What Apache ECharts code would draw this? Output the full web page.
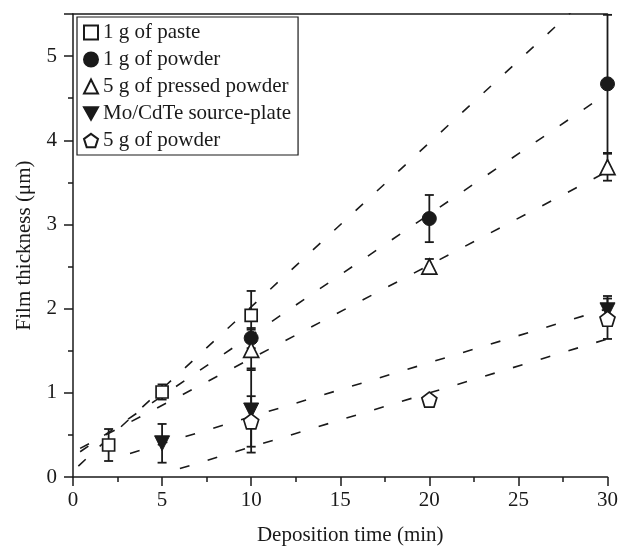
<!DOCTYPE html>
<html><head><meta charset="utf-8">
<script src="https://cdn.jsdelivr.net/npm/echarts@6/dist/echarts.min.js"></script>
<style>html,body{margin:0;padding:0;background:#fff}#c{width:621px;height:551px}</style>
</head><body><div id="c"></div>
<script>
// ---- data ----
const seriesNames = ['1 g of paste', '1 g of powder', '5 g of pressed powder', 'Mo/CdTe source-plate', '5 g of powder'];

const pasteX = [2, 5, 10];
const pasteY = [0.38, 1.01, 1.92];
const pasteErr = [0.19, 0.09, 0.29];

const powderX = [10, 20, 30];
const powderY = [1.65, 3.07, 4.67];
const powderErr = [0.12, 0.28, 0.82];

const pressedX = [10, 20, 30];
const pressedY = [1.51, 2.50, 3.68];
const pressedErr = [0.24, 0.09, 0.16];

const moX = [5, 10, 30];
const moY = [0.40, 0.79, 1.98];
const moErr = [0.23, 0.50, 0.17];

const powder5X = [10, 20, 30];
const powder5Y = [0.66, 0.92, 1.88];
const powder5Err = [0.30, 0, 0.24];

// dashed fit lines (end points)
const fitPasteX = [0.3, 30],   fitPasteY = [0.13, 5.92];
const fitPowderX = [0.4, 30],  fitPowderY = [0.30, 4.56];
const fitPressedX = [0.4, 30], fitPressedY = [0.34, 3.63];
const fitMoX = [3.2, 30],      fitMoY = [0.28, 2.00];
const fitPowder5X = [6.0, 30], fitPowder5Y = [0.10, 1.64];

const xTickLabels = ['0', '5', '10', '15', '20', '25', '30'];
const yTickLabels = ['0', '1', '2', '3', '4', '5'];

// ---- chart ----
const INK = '#1a1a1a';
const FONT = '"Liberation Serif", "Times New Roman", serif';
const pentagon = 'path://M0,-1 L0.951,-0.309 L0.588,0.809 L-0.588,0.809 L-0.951,-0.309 Z';
const downTri = 'path://M-1,-0.9 L1,-0.9 L0,0.9 Z';

function pairs(xs, ys) { return xs.map((x, i) => [x, ys[i]]); }

function errSeries(xs, ys, es) {
  return {
    type: 'custom', silent: true, z: 3, clip: false,
    encode: { x: 0, y: [1, 2] },
    data: xs.map((x, i) => [x, ys[i] - es[i], ys[i] + es[i]]).filter(d => d[2] > d[1]),
    renderItem: function (params, api) {
      const lo = api.coord([api.value(0), api.value(1)]);
      const hi = api.coord([api.value(0), api.value(2)]);
      const w = 4.5;
      const st = { stroke: INK, lineWidth: 1.8 };
      return { type: 'group', children: [
        { type: 'line', shape: { x1: lo[0], y1: lo[1], x2: hi[0], y2: hi[1] }, style: st },
        { type: 'line', shape: { x1: lo[0] - w, y1: lo[1], x2: lo[0] + w, y2: lo[1] }, style: st },
        { type: 'line', shape: { x1: hi[0] - w, y1: hi[1], x2: hi[0] + w, y2: hi[1] }, style: st }
      ] };
    }
  };
}

function fitSeries(xs, ys) {
  return {
    type: 'line', data: pairs(xs, ys), symbol: 'none', silent: true, z: 2, clip: true,
    lineStyle: { color: INK, width: 1.6, type: [10, 19] }
  };
}

function scat(name, xs, ys, symbol, size, filled) {
  return {
    name: name, type: 'scatter', data: pairs(xs, ys), symbol: symbol, symbolSize: size, z: 5,
    itemStyle: filled ? { color: INK, borderColor: INK, borderWidth: 1, opacity: 1 } :
                        { color: '#fff', borderColor: INK, borderWidth: 1.7, opacity: 1 }
  };
}

const axisLineStyle = { color: INK, width: 1.5 };

const option = {
  animation: false,
  backgroundColor: '#fff',
  textStyle: { fontFamily: FONT },
  grid: { left: 73, right: 10, top: 14, bottom: 74, containLabel: false },
  legend: {
    orient: 'vertical', left: 77, top: 17,
    data: seriesNames,
    itemWidth: 14, itemHeight: 14, itemGap: 6,
    padding: [5, 7, 4, 6],
    borderColor: INK, borderWidth: 1.2, backgroundColor: '#fff',
    textStyle: { fontFamily: FONT, fontSize: 21, color: INK },
    selectedMode: false
  },
  xAxis: [{
    type: 'value', min: 0, max: 30, interval: 5,
    name: 'Deposition time (min)', nameLocation: 'middle', nameGap: 48,
    nameTextStyle: { fontFamily: FONT, fontSize: 21, color: INK, padding: [0, 0, 0, 20] },
    axisLine: { show: true, lineStyle: axisLineStyle },
    axisTick: { show: true, inside: false, length: 9, lineStyle: axisLineStyle },
    minorTick: { show: true, splitNumber: 2, length: 5, lineStyle: axisLineStyle },
    axisLabel: { fontFamily: FONT, fontSize: 21, color: INK, margin: 13,
                 formatter: v => xTickLabels[Math.round(v / 5)] ?? '' },
    splitLine: { show: false }
  }, {
    type: 'value', min: 0, max: 30, position: 'top',
    axisLine: { show: true, onZero: false, lineStyle: axisLineStyle },
    axisTick: { show: false }, axisLabel: { show: false }, splitLine: { show: false }
  }],
  yAxis: {
    type: 'value', min: 0, max: 5.5, interval: 1,
    name: 'Film thickness (\u03bcm)', nameLocation: 'middle', nameGap: 38,
    nameTextStyle: { fontFamily: FONT, fontSize: 21, color: INK },
    axisLine: { show: true, lineStyle: axisLineStyle },
    axisTick: { show: true, inside: false, length: 9, lineStyle: axisLineStyle },
    minorTick: { show: true, splitNumber: 2, length: 5, lineStyle: axisLineStyle },
    axisLabel: { fontFamily: FONT, fontSize: 21, color: INK, margin: 16, showMaxLabel: false,
                 formatter: v => (Number.isInteger(v) ? (yTickLabels[v] ?? '') : '') },
    splitLine: { show: false }
  },
  series: [
    fitSeries(fitPasteX, fitPasteY),
    fitSeries(fitPowderX, fitPowderY),
    fitSeries(fitPressedX, fitPressedY),
    fitSeries(fitMoX, fitMoY),
    fitSeries(fitPowder5X, fitPowder5Y),
    errSeries(pasteX, pasteY, pasteErr),
    errSeries(powderX, powderY, powderErr),
    errSeries(pressedX, pressedY, pressedErr),
    errSeries(moX, moY, moErr),
    errSeries(powder5X, powder5Y, powder5Err),
    scat(seriesNames[0], pasteX, pasteY, 'rect', 12, false),
    scat(seriesNames[1], powderX, powderY, 'circle', 14, true),
    scat(seriesNames[2], pressedX, pressedY, 'triangle', 15, false),
    scat(seriesNames[3], moX, moY, downTri, 15, true),
    scat(seriesNames[4], powder5X, powder5Y, pentagon, 15, false)
  ]
};

const chart = echarts.init(document.getElementById('c'), null, { renderer: 'canvas' });
chart.setOption(option);
</script>
</body></html>
